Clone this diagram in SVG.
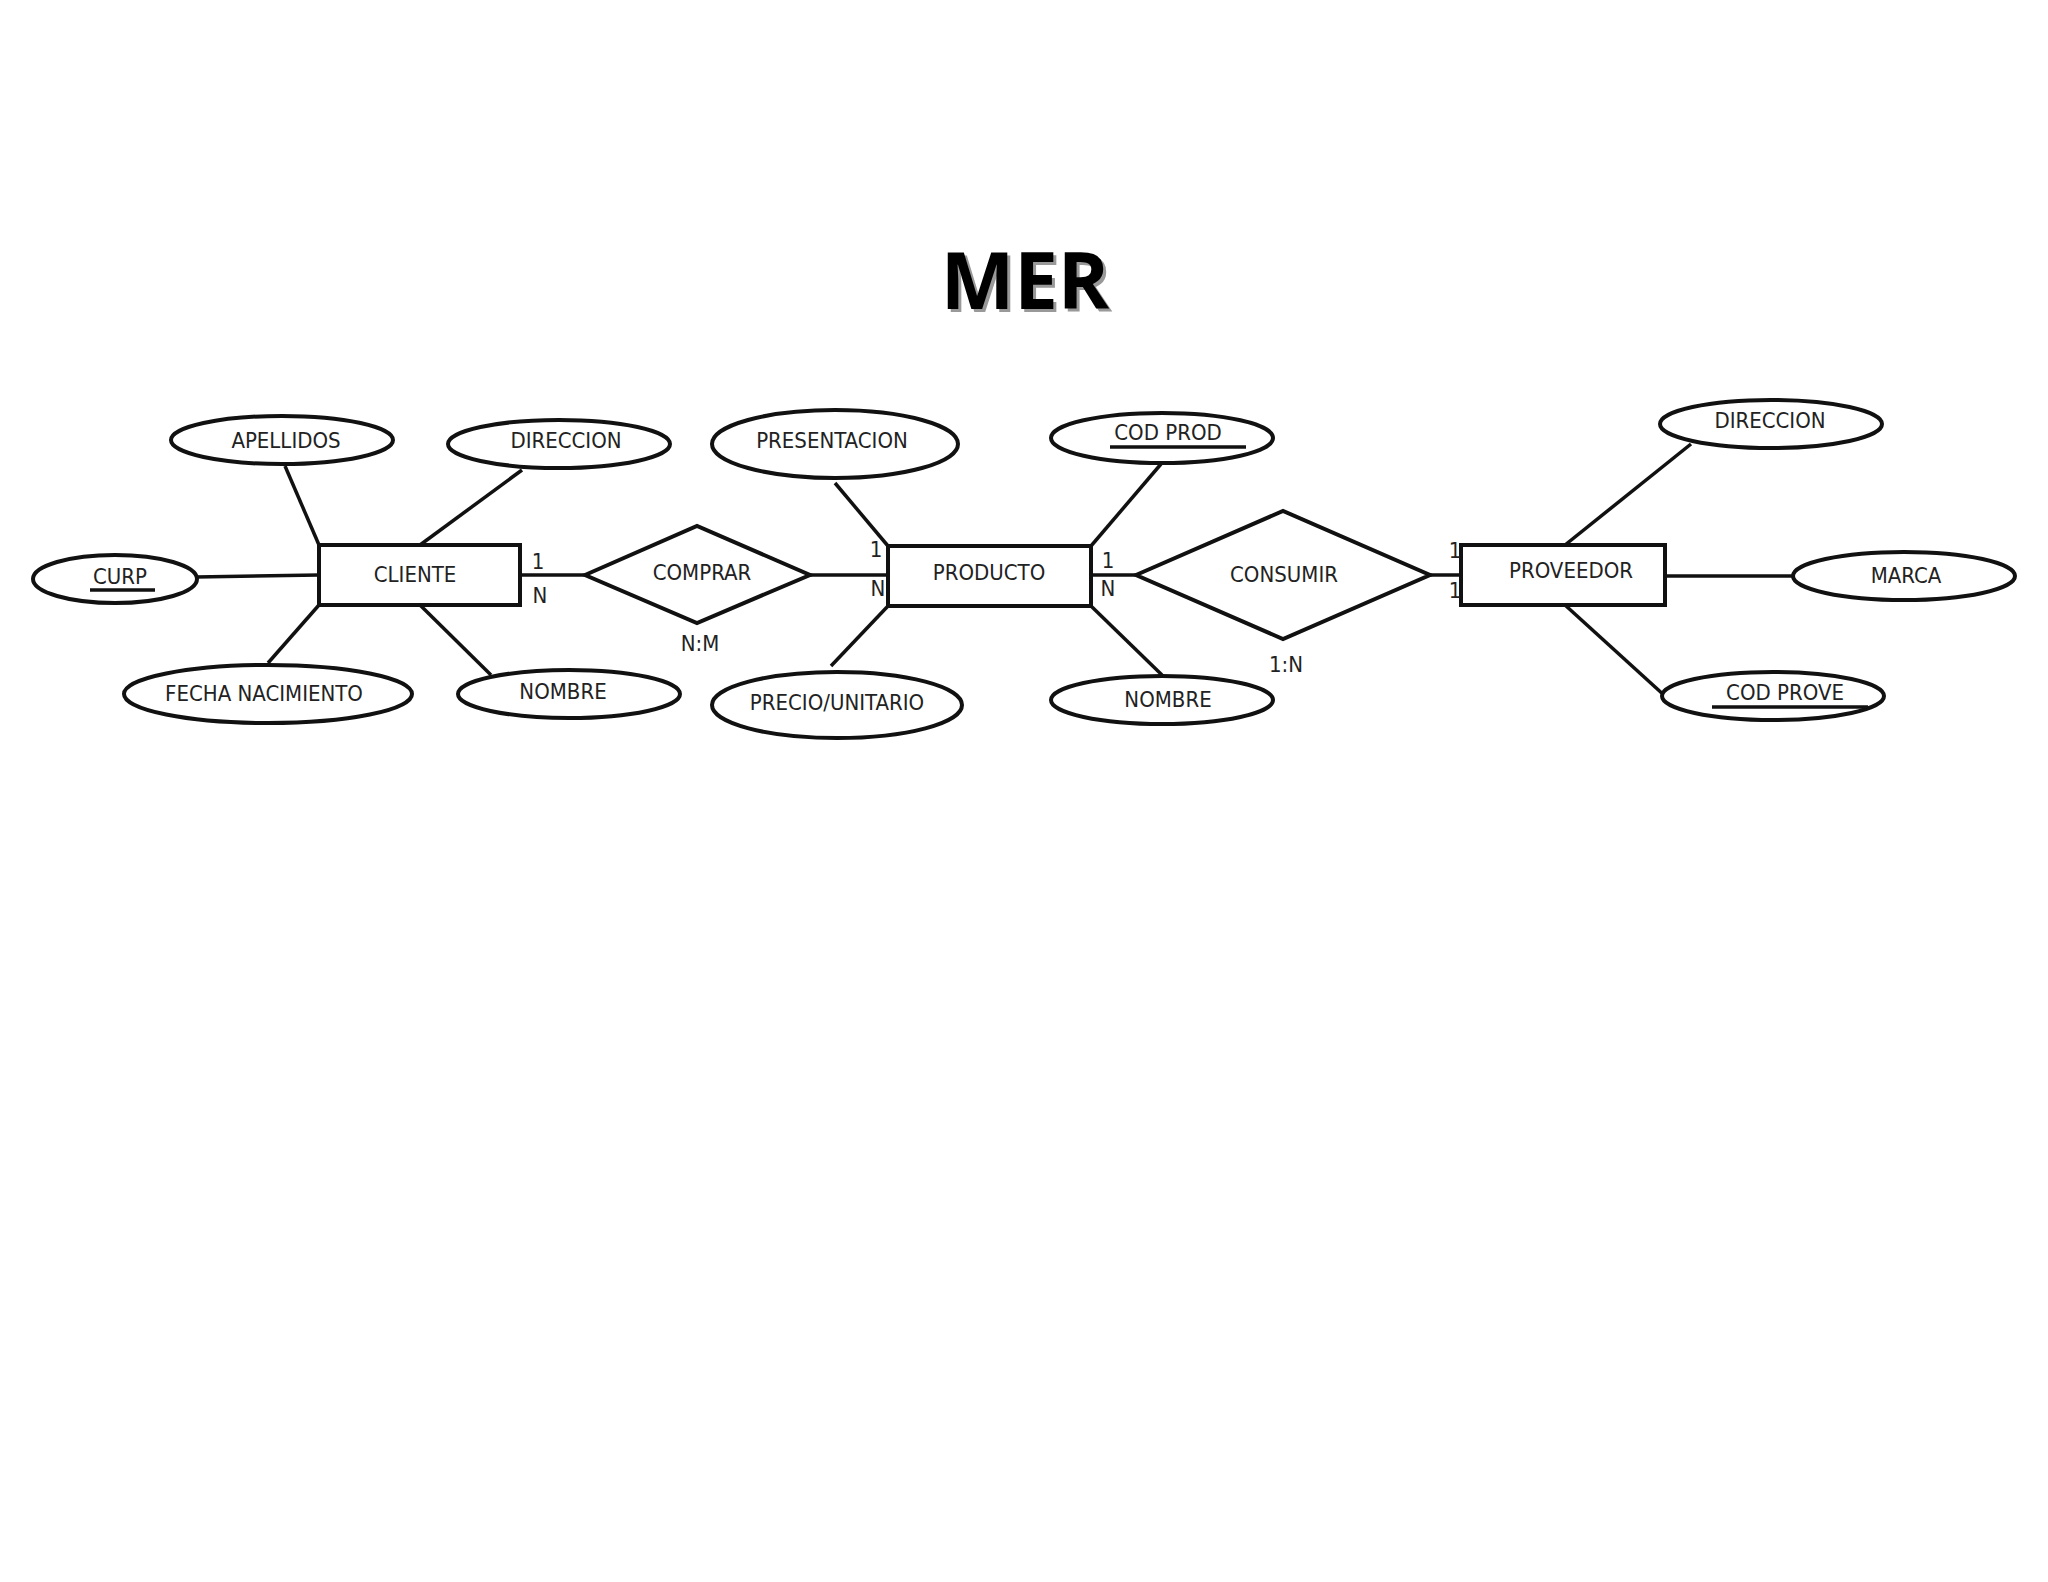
<svg xmlns="http://www.w3.org/2000/svg" width="2048" height="1582" viewBox="0 0 2048 1582">
<style>
.s{fill:#fff;stroke:#111;stroke-width:4}
.l{stroke:#111;stroke-width:3.5;fill:none}
text{font-family:"DejaVu Sans Condensed","DejaVu Sans",sans-serif;font-size:22px;fill:#222;text-anchor:middle;dominant-baseline:middle}
.c{font-size:21px}
</style>
<rect width="2048" height="1582" fill="#fff"/>
<text x="1028" y="291" style="font-family:'Open Sans','DejaVu Sans',sans-serif;font-weight:bold;font-size:78px;fill:#999">MER</text>
<text x="1025" y="288" style="font-family:'Open Sans','DejaVu Sans',sans-serif;font-weight:bold;font-size:78px;fill:#000">MER</text>
<g id="connectors" class="l">
<line x1="285" y1="466" x2="319" y2="545"/>
<line x1="522" y1="470" x2="420" y2="545"/>
<line x1="196" y1="577" x2="319" y2="575"/>
<line x1="268" y1="663" x2="319" y2="605"/>
<line x1="491" y1="675" x2="420" y2="605"/>
<line x1="520" y1="575" x2="585" y2="575"/>
<line x1="810" y1="575" x2="888" y2="575"/>
<line x1="835" y1="483" x2="888" y2="546"/>
<line x1="831" y1="666" x2="888" y2="606"/>
<line x1="1161" y1="464" x2="1091" y2="546"/>
<line x1="1162" y1="675" x2="1091" y2="606"/>
<line x1="1091" y1="575" x2="1136" y2="575"/>
<line x1="1430" y1="575" x2="1461" y2="575"/>
<line x1="1691" y1="444" x2="1565" y2="545"/>
<line x1="1665" y1="576" x2="1793" y2="576"/>
<line x1="1665" y1="696" x2="1565" y2="605"/>
</g>
<g id="cliente"><rect class="s" x="319" y="545" width="201" height="60"/><text x="415" y="576">CLIENTE</text></g>
<g id="producto"><rect class="s" x="888" y="546" width="203" height="60"/><text x="989" y="574">PRODUCTO</text></g>
<g id="proveedor"><rect class="s" x="1461" y="545" width="204" height="60"/><text x="1571" y="572">PROVEEDOR</text></g>
<g id="comprar"><polygon class="s" points="585,575 697,526 810,575 697,623"/><text x="702" y="574">COMPRAR</text><text x="700" y="645">N:M</text></g>
<g id="consumir"><polygon class="s" points="1136,575 1283,511 1430,575 1283,639"/><text x="1284" y="576">CONSUMIR</text><text x="1286" y="666">1:N</text></g>
<g id="apellidos"><ellipse class="s" cx="282" cy="440" rx="111" ry="24"/><text x="286" y="442">APELLIDOS</text></g>
<g id="direccion1"><ellipse class="s" cx="559" cy="444" rx="111" ry="24"/><text x="566" y="442">DIRECCION</text></g>
<g id="curp"><ellipse class="s" cx="115" cy="579" rx="82" ry="24"/><text x="120" y="578">CURP</text><line class="l" x1="90" y1="590" x2="155" y2="590"/></g>
<g id="fecha"><ellipse class="s" cx="268" cy="694" rx="144" ry="29"/><text x="264" y="695">FECHA NACIMIENTO</text></g>
<g id="nombre1"><ellipse class="s" cx="569" cy="694" rx="111" ry="24"/><text x="563" y="693">NOMBRE</text></g>
<g id="presentacion"><ellipse class="s" cx="835" cy="444" rx="123" ry="34"/><text x="832" y="442">PRESENTACION</text></g>
<g id="precio"><ellipse class="s" cx="837" cy="705" rx="125" ry="33"/><text x="837" y="704">PRECIO/UNITARIO</text></g>
<g id="codprod"><ellipse class="s" cx="1162" cy="438" rx="111" ry="25"/><text x="1168" y="434">COD  PROD</text><line class="l" x1="1110" y1="447" x2="1246" y2="447"/></g>
<g id="nombre2"><ellipse class="s" cx="1162" cy="700" rx="111" ry="24"/><text x="1168" y="701">NOMBRE</text></g>
<g id="direccion2"><ellipse class="s" cx="1771" cy="424" rx="111" ry="24"/><text x="1770" y="422">DIRECCION</text></g>
<g id="marca"><ellipse class="s" cx="1904" cy="576" rx="111" ry="24"/><text x="1906" y="577">MARCA</text></g>
<g id="codprove"><ellipse class="s" cx="1773" cy="696" rx="111" ry="24"/><text x="1785" y="694">COD  PROVE</text><line class="l" x1="1712" y1="707" x2="1868" y2="707"/></g>
<g id="card" class="c">
<text x="538" y="563">1</text><text x="540" y="597">N</text>
<text x="876" y="551">1</text><text x="878" y="590">N</text>
<text x="1108" y="562">1</text><text x="1108" y="590">N</text>
<text x="1455" y="552">1</text><text x="1455" y="592">1</text>
</g>
</svg>
